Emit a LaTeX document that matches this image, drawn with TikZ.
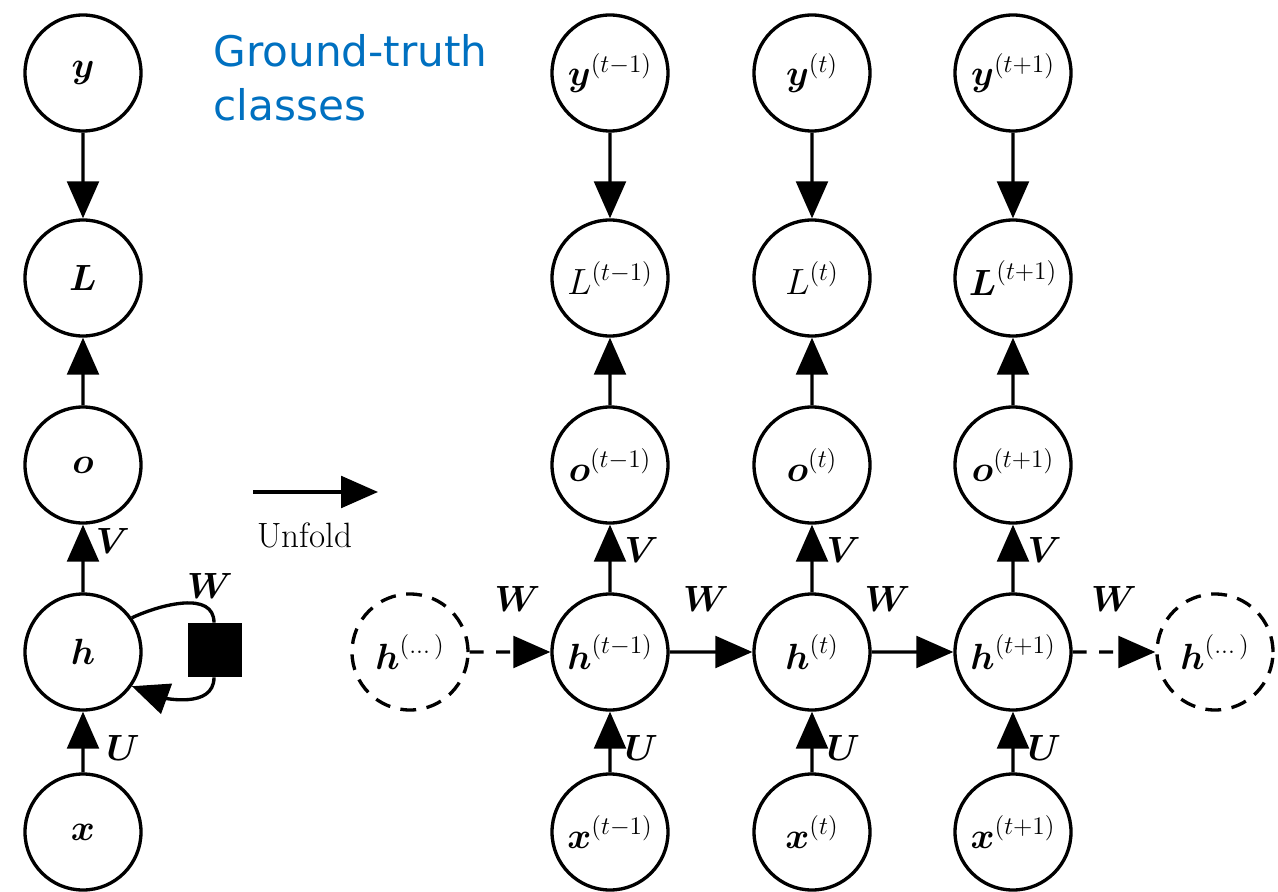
\documentclass[tikz,border=0pt]{standalone}
\usepackage{amsmath}
\usepackage{fontspec}
\usepackage{tikz}
\usetikzlibrary{arrows.meta,positioning}
\newfontfamily\notefont{DejaVu Sans}
\definecolor{noteblue}{RGB}{0,112,192}

\begin{document}
\begin{tikzpicture}[scale=0.2]
                \tikzstyle{every node}+=[font=\fontsize{20}{24}\selectfont]
                \tikzstyle{unit}=[circle, draw=black, line width=1.9pt, minimum size=2.32cm, inner sep=0pt]
                \tikzstyle{ghost}=[unit, dash pattern=on 9pt off 6pt]
                \tikzstyle{flow}=[line width=1.9pt, -{Triangle[length=21pt,width=18pt]}]
                \tikzstyle{gap}=[dash pattern=on 8pt off 7pt]
                \useasboundingbox (0,0) rectangle (127.8,-89.2);
                % folded network
                \node[unit] (y) at (8.3,-7.3) {$\boldsymbol{y}$};
                \node[unit] (L) at (8.3,-27.8) {$\boldsymbol{L}$};
                \node[unit] (o) at (8.3,-46.5) {$\boldsymbol{o}$};
                \node[unit] (h) at (8.3,-65.2) {$\boldsymbol{h}$};
                \node[unit] (x) at (8.3,-83.2) {$\boldsymbol{x}$};
                \node[fill=black, minimum size=1.08cm, inner sep=0pt] (delay) at (21.5,-65.0) {};
                \draw[flow] (y) -- (L);
                \draw[flow] (o) -- (L);
                \draw[flow] (h) -- node[pos=0.76, right=3pt] {$\boldsymbol{V}$} (o);
                \draw[flow] (x) -- node[pos=0.4, right=9pt] {$\boldsymbol{U}$} (h);
                \draw[line width=1.9pt] (h.35) to[out=25, in=90] ([xshift=-0.1cm]delay.north);
                \draw[flow] ([xshift=-0.1cm]delay.south) to[out=-90, in=-20] (h.-35);
                \node (wloop) at (21.0,-58.6) {$\boldsymbol{W}$};
                % unfold arrow
                \coordinate (fold0) at (25.3,-49.2);
                \coordinate (fold1) at (37.8,-49.2);
                \draw[flow] (fold0) -- node[below=13pt, xshift=-0.21cm] {Unfold} (fold1);
                \node[anchor=north west, align=left, inner sep=0pt, text=noteblue,
                      font=\notefont\fontsize{24}{31}\selectfont] (truth) at (21.3,-3.4) {Ground-truth\\classes};
                % unfolded network
                \node[unit] (y1) at (61.0,-7.3) {$\boldsymbol{y}^{(t-1)}$};
                \node[unit] (y2) at (81.2,-7.3) {$\boldsymbol{y}^{(t)}$};
                \node[unit] (y3) at (101.3,-7.3) {$\boldsymbol{y}^{(t+1)}$};
                \node[unit] (L1) at (61.0,-27.8) {$L^{(t-1)}$};
                \node[unit] (L2) at (81.2,-27.8) {$L^{(t)}$};
                \node[unit] (L3) at (101.3,-27.8) {$\boldsymbol{L}^{(t+1)}$};
                \node[unit] (o1) at (61.0,-46.5) {$\boldsymbol{o}^{(t-1)}$};
                \node[unit] (o2) at (81.2,-46.5) {$\boldsymbol{o}^{(t)}$};
                \node[unit] (o3) at (101.3,-46.5) {$\boldsymbol{o}^{(t+1)}$};
                \node[ghost] (h0) at (41.0,-65.2) {$\boldsymbol{h}^{(\dots)}$};
                \node[unit] (h1) at (61.0,-65.2) {$\boldsymbol{h}^{(t-1)}$};
                \node[unit] (h2) at (81.2,-65.2) {$\boldsymbol{h}^{(t)}$};
                \node[unit] (h3) at (101.3,-65.2) {$\boldsymbol{h}^{(t+1)}$};
                \node[ghost] (h4) at (121.5,-65.2) {$\boldsymbol{h}^{(\dots)}$};
                \node[unit] (x1) at (61.0,-83.2) {$\boldsymbol{x}^{(t-1)}$};
                \node[unit] (x2) at (81.2,-83.2) {$\boldsymbol{x}^{(t)}$};
                \node[unit] (x3) at (101.3,-83.2) {$\boldsymbol{x}^{(t+1)}$};
                \draw[flow] (y1) -- (L1);
                \draw[flow] (y2) -- (L2);
                \draw[flow] (y3) -- (L3);
                \draw[flow] (o1) -- (L1);
                \draw[flow] (o2) -- (L2);
                \draw[flow] (o3) -- (L3);
                \draw[flow] (h1) -- node[pos=0.62, right=4pt] {$\boldsymbol{V}$} (o1);
                \draw[flow] (h2) -- node[pos=0.62, right=4pt] {$\boldsymbol{V}$} (o2);
                \draw[flow] (h3) -- node[pos=0.62, right=4pt] {$\boldsymbol{V}$} (o3);
                \draw[flow] (x1) -- node[pos=0.4, right=4pt] {$\boldsymbol{U}$} (h1);
                \draw[flow] (x2) -- node[pos=0.4, right=4pt] {$\boldsymbol{U}$} (h2);
                \draw[flow] (x3) -- node[pos=0.4, right=4pt] {$\boldsymbol{U}$} (h3);
                \draw[flow, gap] (h0) -- node[midway, above=19pt, xshift=0.15cm] {$\boldsymbol{W}$} (h1);
                \draw[flow] (h1) -- node[midway, above=19pt, xshift=-0.1cm] {$\boldsymbol{W}$} (h2);
                \draw[flow] (h2) -- node[midway, above=19pt, xshift=-0.5cm] {$\boldsymbol{W}$} (h3);
                \draw[flow, gap] (h3) -- node[midway, above=19pt] {$\boldsymbol{W}$} (h4);
            \end{tikzpicture}
\end{document}
